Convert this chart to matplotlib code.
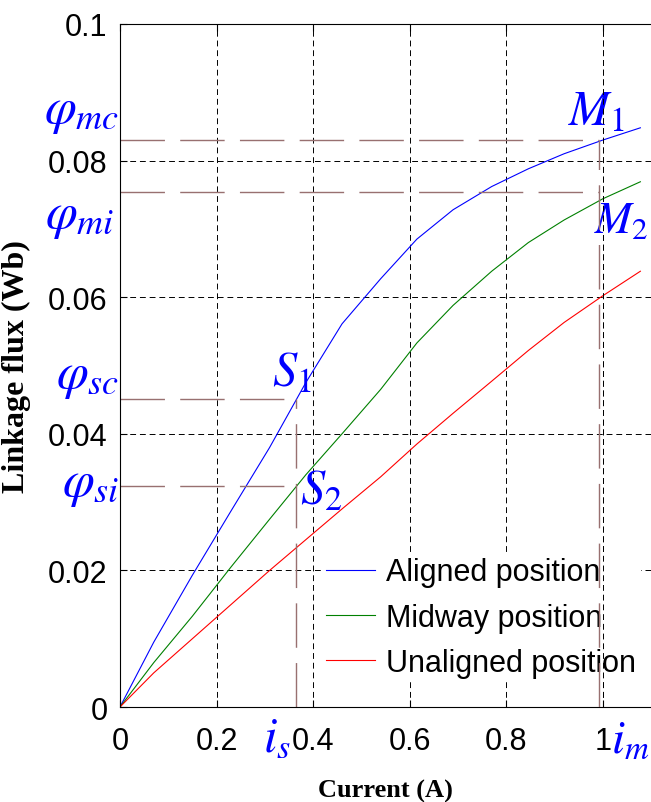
import matplotlib
matplotlib.use('Agg')
import matplotlib.pyplot as plt

plt.rc('font', family='Liberation Sans', size=22)
plt.rc('mathtext', fontset='stix')

# current (A) at the sample points
current = [0, 0.07, 0.15, 0.23, 0.31, 0.385, 0.46, 0.54, 0.615, 0.69, 0.77, 0.846, 0.92, 1.0, 1.078]
# linkage flux (Wb)
flux_aligned = [0, 0.0095, 0.0193, 0.0287, 0.038, 0.0475, 0.0561, 0.0627, 0.0685, 0.0728, 0.0762, 0.0788, 0.081, 0.083, 0.0848]
flux_midway = [0, 0.0065, 0.0133, 0.0205, 0.0275, 0.034, 0.040, 0.0465, 0.0533, 0.0588, 0.0638, 0.068, 0.0713, 0.0744, 0.0769]
flux_unaligned = [0, 0.0050, 0.0100, 0.015, 0.020, 0.0245, 0.029, 0.0337, 0.0385, 0.043, 0.0477, 0.0522, 0.0563, 0.0602, 0.0638]
labels = ['Aligned position', 'Midway position', 'Unaligned position']

# operating points
i_s = 0.365
i_m = 0.993
phi_sc = 0.0451
phi_si = 0.0324
phi_mc = 0.083
phi_mi = 0.0754

xticks = [0, 0.2, 0.4, 0.6, 0.8, 1]
xticklabels = ['0', '0.2', '0.4', '0.6', '0.8', '1']
yticks = [0, 0.02, 0.04, 0.06, 0.08, 0.1]
yticklabels = ['0', '0.02', '0.04', '0.06', '0.08', '0.1']

fig = plt.figure(figsize=(6.51, 8.03), dpi=100)
ax = fig.add_axes([0.1843, 0.1183, 0.8157, 0.8506])

ax.plot(current, flux_aligned, color='#0000ff', lw=0.8, label=labels[0])
ax.plot(current, flux_midway, color='#008000', lw=0.8, label=labels[1])
ax.plot(current, flux_unaligned, color='#ff0000', lw=0.8, label=labels[2])

# guide lines to the operating points
guide = dict(color='#987070', lw=1.0, dashes=(32, 11))
ax.plot([0, i_m], [phi_mc, phi_mc], **guide)
ax.plot([0, i_m], [phi_mi, phi_mi], **guide)
ax.plot([i_m, i_m], [0, phi_mc], zorder=7, **guide)
ax.plot([0, i_s], [phi_sc, phi_sc], **guide)
ax.plot([0, i_s], [phi_si, phi_si], **guide)
ax.plot([i_s, i_s], [0, phi_sc], **guide)

ax.set_xlim(0, 1.1)
ax.set_ylim(0, 0.1)
ax.set_xticks(xticks, xticklabels)
ax.set_yticks(yticks, yticklabels)
ax.tick_params(direction='in', length=5, top=True, width=0.8, pad=9)
ax.tick_params(axis='x', pad=14)
ax.spines['right'].set_visible(False)
ax.grid(True, color='black', lw=0.7, dashes=(6, 4))
ax.set_axisbelow(True)
ax.axvline(1.0, color='black', lw=0.7, dashes=(6, 4), zorder=6)

leg = ax.legend(loc='upper left', bbox_to_anchor=(0.38, 0.226), bbox_transform=ax.transAxes,
                frameon=True, fancybox=False, edgecolor='none', facecolor='white', framealpha=1,
                handlelength=1.6, handletextpad=0.35, labelspacing=0.5, borderpad=0.15, borderaxespad=0)

ax.set_xlabel('Current (A)', family='Liberation Serif', weight='bold', fontsize=19, labelpad=16)
ax.set_ylabel('Linkage flux (Wb)', family='Liberation Serif', weight='bold', fontsize=23, labelpad=12)

# blue annotations
blue = '#0000ff'
ax.text(-0.002, phi_mc + 0.0008, r'$\varphi_{mc}$', color=blue, fontsize=37, ha='right', va='bottom')
ax.text(-0.012, phi_mi + 0.0002, r'$\varphi_{mi}$', color=blue, fontsize=37, ha='right', va='top')
ax.text(-0.002, phi_sc - 0.0002, r'$\varphi_{sc}$', color=blue, fontsize=37, ha='right', va='bottom')
ax.text(-0.002, phi_si + 0.0003, r'$\varphi_{si}$', color=blue, fontsize=37, ha='right', va='center')
ax.text(i_m - 0.065, phi_mc + 0.0008, r'$M_1$', color=blue, fontsize=35, ha='left', va='bottom')
ax.text(i_m - 0.012, phi_mi - 0.0012, r'$M_2$', color=blue, fontsize=32, ha='left', va='top')
ax.text(i_s - 0.05, phi_sc + 0.0005, r'$S_1$', color=blue, fontsize=35, ha='left', va='bottom')
ax.text(i_s + 0.008, phi_si + 0.0025, r'$S_2$', color=blue, fontsize=35, ha='left', va='top')
ax.text(i_s - 0.04, -0.0012, r'$i_s$', color=blue, fontsize=35, ha='center', va='top')
ax.text(i_m + 0.063, -0.0015, r'$i_m$', color=blue, fontsize=34, ha='center', va='top')

fig.savefig('out.png', dpi=100)
